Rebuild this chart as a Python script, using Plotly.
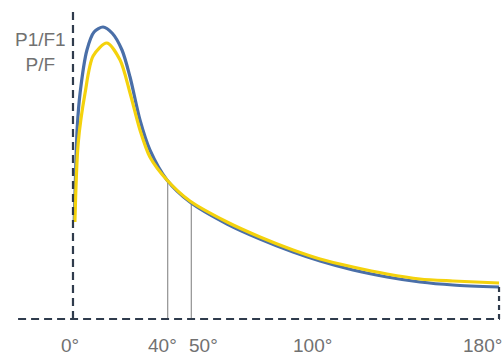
import numpy as np
import plotly.graph_objects as go

# Angle (degrees) and ratio values
blue_deg = [0.5, 1.2, 1.8, 3.0, 5.9, 8.9, 12.7, 16.5, 20.7, 24.1, 28.3, 32.5, 39.7, 49.4,
            65.1, 79.0, 93.0, 104.4, 118.3, 132.7, 146.6, 160.5, 180.0]
blue_val = [0.97, 1.55, 1.92, 2.26, 2.69, 2.87, 2.92, 2.86, 2.69, 2.42, 1.99, 1.69, 1.39, 1.17,
            0.95, 0.80, 0.67, 0.58, 0.49, 0.42, 0.37, 0.34, 0.32]

yellow_deg = [0.8, 2.2, 5.1, 8.5, 14.3, 19.9, 24.1, 28.3, 32.5, 39.7, 49.4,
              65.1, 79.0, 93.0, 104.4, 118.3, 132.7, 146.6, 160.5, 180.0]
yellow_val = [0.97, 1.76, 2.26, 2.63, 2.76, 2.59, 2.26, 1.89, 1.62, 1.39, 1.18,
              0.97, 0.82, 0.69, 0.60, 0.52, 0.45, 0.40, 0.38, 0.36]

tick_vals = [0, 40, 50, 100, 180]
tick_text = ["0°", "40°", "50°", "100°", "180°"]
marker_deg = [40, 50]
ylabel_text = "P1/F1<br>P/F"

W, H = 504, 358
X_RANGE = [-30.84, 182.1]
Y_RANGE = [-0.39, 3.19]

axis_col = "#2f3b4c"
dash_style = "8px,5px"
label_font = dict(family="Liberation Sans, Arial", size=19, color="#717171")

fig = go.Figure()

# vertical marker lines from baseline up to curve
for d in marker_deg:
    top = float(np.interp(d, blue_deg, blue_val))
    fig.add_shape(type="line", x0=d, x1=d, y0=0, y1=top,
                  line=dict(color="#9a9a9a", width=1.3), layer="below")

fig.add_trace(go.Scatter(x=blue_deg, y=blue_val, mode="lines",
                         line=dict(color="#4a6fa8", width=3.2, shape="spline", smoothing=0.8),
                         hoverinfo="skip", showlegend=False))
fig.add_trace(go.Scatter(x=yellow_deg, y=yellow_val, mode="lines",
                         line=dict(color="#f4d20c", width=3.2, shape="spline", smoothing=0.8),
                         hoverinfo="skip", showlegend=False))

# dashed axes
fig.add_shape(type="line", x0=-23.2, x1=180.4, y0=0, y1=0,
              line=dict(color=axis_col, width=2.2, dash=dash_style))
fig.add_shape(type="line", x0=0, x1=0, y0=0, y1=3.11,
              line=dict(color=axis_col, width=2.2, dash=dash_style))
fig.add_shape(type="line", x0=180, x1=180, y0=0, y1=blue_val[-1],
              line=dict(color=axis_col, width=2.2, dash="5px,4px"))

# tick labels
shifts = [-3, -5, 12, 3, -17]
for v, t, s in zip(tick_vals, tick_text, shifts):
    fig.add_annotation(x=v, y=-0.26, text=t, showarrow=False, xshift=s,
                       xanchor="center", yanchor="middle", font=label_font)

# y label
fig.add_annotation(xref="paper", yref="paper", x=40 / W, y=1 - 52 / H,
                   text=ylabel_text, showarrow=False, xanchor="center", yanchor="middle",
                   font=label_font)

fig.update_layout(
    width=W, height=H,
    margin=dict(l=0, r=0, t=0, b=0),
    paper_bgcolor="white", plot_bgcolor="white",
    xaxis=dict(range=X_RANGE, visible=False, fixedrange=True),
    yaxis=dict(range=Y_RANGE, visible=False, fixedrange=True),
    showlegend=False,
)

fig.write_html(
    "out.html",
    config={"displayModeBar": False},
    post_script="document.body.style.margin='0px';document.body.style.overflow='hidden';",
)
